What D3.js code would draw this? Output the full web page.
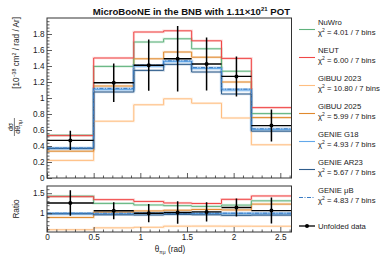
<!DOCTYPE html>
<html>
<head>
<meta charset="utf-8">
<script src="https://cdn.jsdelivr.net/npm/d3@7"></script>
<style>
  body { margin: 0; background: #fff; }
  text { font-family: "Liberation Sans", Arial, sans-serif; }
</style>
</head>
<body>
<div id="chart"></div>
<script>
// bins of the opening angle (rad)
const binEdges = [0, 0.5, 0.93, 1.25, 1.55, 1.87, 2.19, 2.62];

// unfolded data and its error
const dataVals = [0.47, 1.19, 1.41, 1.49, 1.425, 1.27, 0.655];
const dataErrs = [0.12, 0.24, 0.32, 0.41, 0.33, 0.25, 0.20];

// generator predictions
const nuwroVals  = [0.535, 1.395, 1.70, 1.74, 1.615, 1.335, 0.805];
const neutVals   = [0.53, 1.50, 1.825, 1.84, 1.715, 1.495, 0.88];
const gibuu23Vals = [0.22, 0.71, 0.915, 0.99, 0.935, 0.75, 0.415];
const gibuu25Vals = [0.335, 1.15, 1.49, 1.575, 1.51, 1.20, 0.755];
const g18Vals    = [0.37, 1.105, 1.40, 1.455, 1.37, 1.10, 0.605];
const ar23Vals   = [0.37, 1.075, 1.345, 1.42, 1.325, 1.05, 0.585];
const muBVals    = [0.375, 1.12, 1.41, 1.465, 1.38, 1.11, 0.615];

const modelNames = ["NuWro", "NEUT", "GiBUU 2023", "GiBUU 2025", "GENIE G18", "GENIE AR23", "GENIE \u03bcB"];
const chi2Labels = ["4.01", "6.00", "10.80", "5.99", "4.93", "5.67", "4.83"];

const xTicks = [0, 0.5, 1, 1.5, 2, 2.5];
const yTicks = [0, 0.2, 0.4, 0.6, 0.8, 1, 1.2, 1.4, 1.6, 1.8];
const ratioTicks = [1, 1.5];

const models = [
  {name: modelNames[0], vals: nuwroVals,  color: "#5fb27c", chi: chi2Labels[0]},
  {name: modelNames[1], vals: neutVals,   color: "#f04848", chi: chi2Labels[1]},
  {name: modelNames[2], vals: gibuu23Vals, color: "#ffbe80", chi: chi2Labels[2]},
  {name: modelNames[3], vals: gibuu25Vals, color: "#e0892c", chi: chi2Labels[3]},
  {name: modelNames[4], vals: g18Vals,    color: "#62a8ea", chi: chi2Labels[4]},
  {name: modelNames[5], vals: ar23Vals,   color: "#2f5d8c", chi: chi2Labels[5]},
  {name: modelNames[6], vals: muBVals,    color: "#3a7cc4", chi: chi2Labels[6], dash: "4,1.5,1,1.5"}
];
const drawOrder = [2, 3, 0, 1, 4, 5, 6];

const W = 389, H = 263;
const fr = {left: 47, right: 291.5, top: 18, bottom: 178, rTop: 186, rBottom: 232};

const svg = d3.select("#chart").append("svg")
  .attr("width", W).attr("height", H);

const x = d3.scaleLinear().domain([0, 2.62]).range([fr.left, fr.right]);
const y = d3.scaleLinear().domain([0, 2.0]).range([fr.bottom, fr.top]);
const yr = d3.scaleLinear().domain([0.53, 1.68]).range([fr.rBottom, fr.rTop]);

const defs = svg.append("defs");
defs.append("clipPath").attr("id", "clipMain").append("rect")
  .attr("x", fr.left).attr("y", fr.top).attr("width", fr.right - fr.left).attr("height", fr.bottom - fr.top);
defs.append("clipPath").attr("id", "clipRatio").append("rect")
  .attr("x", fr.left).attr("y", fr.rTop).attr("width", fr.right - fr.left).attr("height", fr.rBottom - fr.rTop);

function stepPoints(vals) {
  const pts = vals.map((v, i) => [binEdges[i], v]);
  pts.push([binEdges[binEdges.length - 1], vals[vals.length - 1]]);
  return pts;
}

function drawPanel(g, ys, valsOf, dVals, dErrs) {
  const line = d3.line().x(d => x(d[0])).y(d => ys(d[1])).curve(d3.curveStepAfter);
  // faded bands
  drawOrder.forEach(i => {
    const m = models[i];
    g.append("path").attr("d", line(stepPoints(valsOf(m))))
      .attr("fill", "none").attr("stroke", m.color)
      .attr("stroke-width", i === 4 ? 3.5 : 2.6).attr("stroke-opacity", i === 4 ? 0.35 : 0.2);
  });
  drawOrder.forEach(i => {
    const m = models[i];
    g.append("path").attr("d", line(stepPoints(valsOf(m))))
      .attr("fill", "none").attr("stroke", m.color)
      .attr("stroke-width", 1)
      .attr("stroke-dasharray", m.dash || null);
  });
  const mid = dVals.map((v, i) => (binEdges[i] + binEdges[i + 1]) / 2);
  const dg = g.append("g");
  dg.selectAll(".hbar").data(dVals).join("line")
    .attr("x1", (d, i) => x(binEdges[i])).attr("x2", (d, i) => x(binEdges[i + 1]))
    .attr("y1", d => ys(d)).attr("y2", d => ys(d))
    .attr("stroke", "#000").attr("stroke-width", 1.4);
  dg.selectAll(".vbar").data(dVals).join("line")
    .attr("x1", (d, i) => x(mid[i])).attr("x2", (d, i) => x(mid[i]))
    .attr("y1", (d, i) => ys(d - dErrs[i])).attr("y2", (d, i) => ys(d + dErrs[i]))
    .attr("stroke", "#000").attr("stroke-width", 1.5);
  dg.selectAll("circle").data(dVals).join("circle")
    .attr("cx", (d, i) => x(mid[i])).attr("cy", d => ys(d)).attr("r", 2)
    .attr("fill", "#000");
}

// main panel
const gMain = svg.append("g").attr("clip-path", "url(#clipMain)");
drawPanel(gMain, y, m => m.vals, dataVals, dataErrs);

// ratio panel, relative to GENIE uB
const gRatio = svg.append("g").attr("clip-path", "url(#clipRatio)");
drawPanel(gRatio, yr, m => m.vals.map((v, i) => v / muBVals[i]),
  dataVals.map((v, i) => v / muBVals[i]),
  dataErrs.map((v, i) => v / muBVals[i]));

// frames
[[fr.top, fr.bottom], [fr.rTop, fr.rBottom]].forEach(([t, b]) => {
  svg.append("rect").attr("x", fr.left).attr("y", t)
    .attr("width", fr.right - fr.left).attr("height", b - t)
    .attr("fill", "none").attr("stroke", "#333").attr("stroke-width", 1);
});

// axes with inward ticks
function axisPair(axisFn, scale, major, minor, labels, transform) {
  const gMin = svg.append("g").attr("transform", transform)
    .call(axisFn(scale).tickValues(minor).tickSize(-2.5).tickSizeOuter(0).tickFormat(""));
  const gMaj = svg.append("g").attr("transform", transform)
    .call(axisFn(scale).tickValues(major).tickSize(-5).tickSizeOuter(0).tickPadding(2.5)
      .tickFormat(labels ? d3.format("~g") : ""));
  [gMin, gMaj].forEach(g => {
    g.select(".domain").remove();
    g.selectAll("line").attr("stroke", "#333").attr("stroke-width", 0.8);
    g.selectAll("text").attr("font-size", 8.2).attr("fill", "#222")
      .attr("font-family", '"Liberation Sans", Arial, sans-serif');
  });
}
const xMinor = d3.range(0, 2.61, 0.1).map(v => +v.toFixed(2)).filter(v => Math.abs(v * 2 - Math.round(v * 2)) > 1e-6);
const yMinor = d3.range(0, 2.0, 0.04).map(v => +v.toFixed(2)).filter(v => Math.abs(v * 5 - Math.round(v * 5)) > 1e-6);
const rMinor = d3.range(0.6, 1.68, 0.1).map(v => +v.toFixed(2)).filter(v => Math.abs(v * 2 - Math.round(v * 2)) > 1e-6);

axisPair(d3.axisBottom, x, xTicks, xMinor, false, `translate(0,${fr.bottom})`);
axisPair(d3.axisLeft, y, yTicks, yMinor, true, `translate(${fr.left},0)`);
axisPair(d3.axisBottom, x, xTicks, xMinor, true, `translate(0,${fr.rBottom})`);
axisPair(d3.axisLeft, yr, ratioTicks, rMinor, true, `translate(${fr.left},0)`);

// title
const title = svg.append("text").attr("x", 290).attr("y", 15)
  .attr("text-anchor", "end").attr("font-size", 9.6).attr("font-weight", "bold").attr("fill", "#111");
title.append("tspan").text("MicroBooNE in the BNB with 1.11\u00d710");
title.append("tspan").attr("dy", -3.8).attr("font-size", 6).text("21");
title.append("tspan").attr("dy", 3.8).text(" POT");

// x axis title
const xt = svg.append("text").attr("x", 170).attr("y", 252)
  .attr("text-anchor", "middle").attr("font-size", 8.2).attr("fill", "#222");
xt.append("tspan").text("\u03b8");
xt.append("tspan").attr("dy", 2).attr("font-size", 5).text("\u03c0\u03bc");
xt.append("tspan").attr("dy", -2).text(" (rad)");

// y axis title (main)
const yt = svg.append("g").attr("transform", "translate(19,17) rotate(-90)");
const br = yt.append("text").attr("x", 0).attr("y", 0).attr("text-anchor", "end")
  .attr("font-size", 8.2).attr("fill", "#222");
br.append("tspan").text("[10");
br.append("tspan").attr("dy", -3.2).attr("font-size", 5.2).text("\u221238");
br.append("tspan").attr("dy", 3.2).text(" cm");
br.append("tspan").attr("dy", -3.2).attr("font-size", 5.2).text("2");
br.append("tspan").attr("dy", 3.2).text(" / rad / Ar]");
yt.append("text").attr("x", -110).attr("y", -6.2).attr("text-anchor", "middle")
  .attr("font-size", 7).attr("fill", "#222").text("d\u03c3");
yt.append("line").attr("x1", -119).attr("x2", -101).attr("y1", -4.6).attr("y2", -4.6)
  .attr("stroke", "#222").attr("stroke-width", 0.6);
const den = yt.append("text").attr("x", -110).attr("y", 1.4).attr("text-anchor", "middle")
  .attr("font-size", 7).attr("fill", "#222");
den.append("tspan").text("d\u03b8");
den.append("tspan").attr("dy", 1.6).attr("font-size", 4.5).text("\u03c0\u03bc");

// ratio y title
svg.append("text").attr("transform", "translate(19,209) rotate(-90)")
  .attr("text-anchor", "middle").attr("font-size", 8.2).attr("fill", "#222").text("Ratio");

// legend
const leg = svg.append("g");
models.forEach((m, i) => {
  const yy = 22 + 28 * i;
  leg.append("line").attr("x1", 299).attr("x2", 315).attr("y1", yy + 7.5).attr("y2", yy + 7.5)
    .attr("stroke", m.color).attr("stroke-width", 1.1).attr("stroke-dasharray", m.dash || null);
  leg.append("text").attr("x", 318).attr("y", yy + 2.8).attr("font-size", 7.7).attr("fill", "#222").text(m.name);
  const t2 = leg.append("text").attr("x", 318).attr("y", yy + 12.8).attr("font-size", 7.7).attr("fill", "#222");
  t2.append("tspan").text("\u03c7");
  t2.append("tspan").attr("dy", -3).attr("font-size", 5).text("2");
  t2.append("tspan").attr("dy", 3).text(` = ${m.chi} / 7 bins`);
});
leg.append("line").attr("x1", 299).attr("x2", 315).attr("y1", 226).attr("y2", 226)
  .attr("stroke", "#000").attr("stroke-width", 1.3);
leg.append("circle").attr("cx", 307).attr("cy", 226).attr("r", 2).attr("fill", "#000");
leg.append("text").attr("x", 318).attr("y", 228.8).attr("font-size", 7.7).attr("fill", "#222").text("Unfolded data");
</script>
</body>
</html>
